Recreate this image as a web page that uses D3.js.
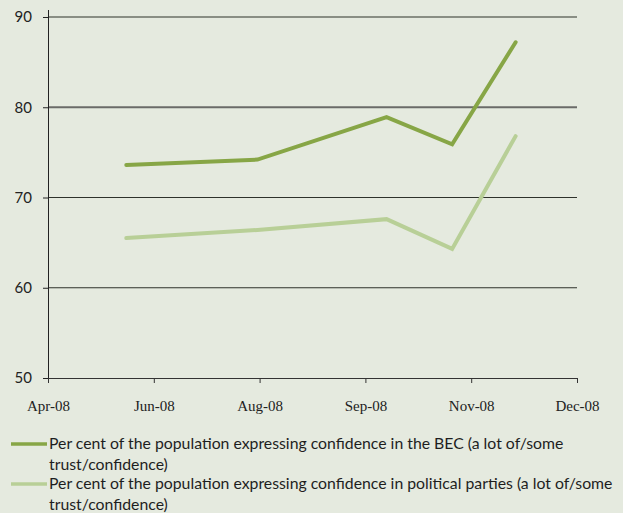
<!DOCTYPE html>
<html>
<head>
<meta charset="utf-8">
<script src="https://cdn.jsdelivr.net/npm/d3@7"></script>
<style>
  body { margin: 0; background: #e5eadf; }
  svg { display: block; }
</style>
</head>
<body>
<div id="chart"></div>
<script>
/***** data *****/
var surveyDates = ["2008-05-30", "2008-07-31", "2008-09-30", "2008-10-31", "2008-11-30"];
var becValues = [73.6, 74.2, 78.9, 75.9, 87.2];
var partyValues = [65.5, 66.4, 67.6, 64.3, 76.8];
var tickDates = ["2008-04-23", "2008-06-12", "2008-08-01", "2008-09-20", "2008-11-09", "2008-12-29"];
var yTicks = [50, 60, 70, 80, 90];
var seriesNames = [
  ["Per cent of the population expressing confidence in the BEC (a lot of/some", "trust/confidence)"],
  ["Per cent of the population expressing confidence in political parties (a lot of/some", "trust/confidence)"]
];
var seriesColors = ["#87a646", "#b8cf97"];

/***** chart parameters *****/
var width = 623, height = 513;
var margin = {top: 17, right: 46, bottom: 135, left: 48};
var innerW = width - margin.left - margin.right;
var innerH = height - margin.top - margin.bottom;

var parseDate = d3.timeParse("%Y-%m-%d");
var formatDate = d3.timeFormat("%b-%y");

var svg = d3.select("#chart")
  .append("svg")
  .attr("width", width)
  .attr("height", height);

svg.append("rect")
  .attr("width", width)
  .attr("height", height)
  .attr("fill", "#e5eadf");

var g = svg.append("g")
  .attr("transform", "translate(" + margin.left + "," + margin.top + ")");

//scales
var ticks = tickDates.map(parseDate);
var x = d3.scaleTime()
  .domain([ticks[0], ticks[ticks.length - 1]])
  .range([0, innerW]);
var y = d3.scaleLinear()
  .domain([50, 90])
  .range([innerH, 0]);

//gridlines
g.selectAll("line.grid")
  .data(yTicks.slice(1))
  .enter().append("line")
  .attr("class", "grid")
  .attr("x1", 0)
  .attr("x2", innerW)
  .attr("y1", function(d) { return y(d); })
  .attr("y2", function(d) { return y(d); })
  .attr("stroke", function(d) { return d === 80 ? "#6a6b68" : "#2e322b"; })
  .attr("stroke-width", function(d) { return d === 80 ? 2 : 1.2; });

//y axis
var yAxis = d3.axisLeft(y)
  .tickValues(yTicks)
  .tickSizeInner(5)
  .tickSizeOuter(0)
  .tickPadding(11);
var yG = g.append("g").call(yAxis);
yG.select(".domain").attr("stroke", "#222").attr("d", "M0.5,-7V" + (innerH + 1));
yG.selectAll(".tick line").attr("stroke", "#222");
yG.selectAll("text")
  .attr("fill", "#222")
  .style("font-family", "Lato, 'Open Sans', sans-serif")
  .style("font-size", "15px");

//x axis
var xAxis = d3.axisBottom(x)
  .tickValues(ticks)
  .tickFormat(formatDate)
  .tickSizeInner(5)
  .tickSizeOuter(0)
  .tickPadding(17);
var xG = g.append("g")
  .attr("transform", "translate(0," + innerH + ")")
  .call(xAxis);
xG.select(".domain").attr("stroke", "#333");
xG.selectAll(".tick line").attr("stroke", "#333");
xG.selectAll("text")
  .attr("fill", "#222")
  .style("font-family", "'Liberation Serif', serif")
  .style("font-size", "15px");

//lines
var line = d3.line()
  .x(function(d) { return x(d.date); })
  .y(function(d) { return y(d.value); });

[becValues, partyValues].forEach(function(vals, i) {
  var pts = vals.map(function(v, j) { return {date: parseDate(surveyDates[j]), value: v}; });
  g.append("path")
    .datum(pts)
    .attr("fill", "none")
    .attr("stroke", seriesColors[i])
    .attr("stroke-width", 4)
    .attr("stroke-linecap", "round")
    .attr("stroke-linejoin", "miter")
    .attr("d", line);
});

//legend
var legend = svg.append("g").attr("transform", "translate(11,0)");
var legendY = [444, 484];
seriesNames.forEach(function(lines, i) {
  legend.append("line")
    .attr("x1", 0).attr("x2", 36)
    .attr("y1", legendY[i]).attr("y2", legendY[i])
    .attr("stroke", seriesColors[i])
    .attr("stroke-width", 3.5);
  lines.forEach(function(t, k) {
    legend.append("text")
      .attr("x", 38)
      .attr("y", legendY[i] + 5 + k * 21)
      .attr("fill", "#1e1e1e")
      .style("font-family", "Lato, 'Open Sans', sans-serif")
      .style("font-size", "15.8px")
      .text(t);
  });
});
</script>
</body>
</html>
